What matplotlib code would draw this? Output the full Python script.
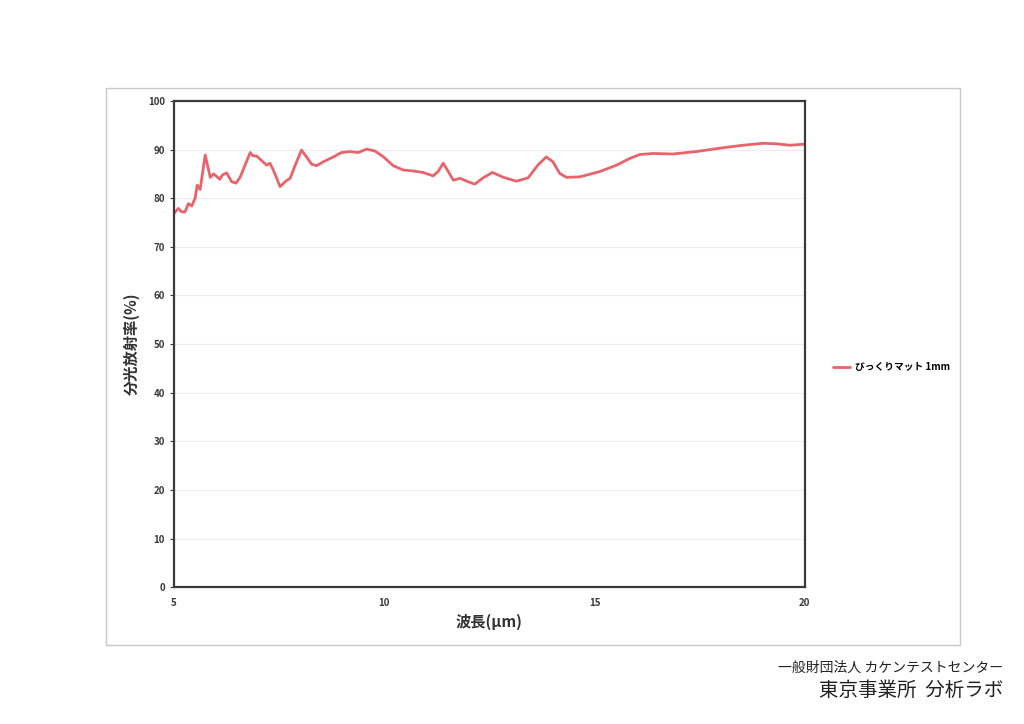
import matplotlib
matplotlib.use("Agg")
from matplotlib import pyplot as plt
from matplotlib.patches import Rectangle

plt.rcParams['font.family'] = ['Noto Sans CJK JP', 'DejaVu Sans']

# wavelength (um) and spectral emissivity (%)
wavelength = [5.00, 5.10, 5.18, 5.26, 5.34, 5.42, 5.50, 5.55, 5.62, 5.74,
              5.86, 5.94, 6.09, 6.15, 6.25, 6.37, 6.47, 6.57, 6.81, 6.88,
              6.96, 7.20, 7.28, 7.36, 7.52, 7.67, 7.76, 7.88, 8.03, 8.15,
              8.27, 8.39, 8.55, 8.79, 8.98, 9.18, 9.38, 9.58, 9.78, 9.98,
              10.21, 10.45, 10.69, 10.92, 11.16, 11.28, 11.40, 11.52, 11.64, 11.80,
              11.99, 12.15, 12.35, 12.57, 12.83, 13.14, 13.42, 13.65, 13.85, 14.01,
              14.17, 14.33, 14.65, 15.13, 15.52, 15.84, 16.08, 16.39, 16.86, 17.42,
              17.98, 18.53, 19.01, 19.32, 19.64, 19.96, 20.00]
emissivity = [76.9, 77.9, 77.2, 77.2, 78.9, 78.4, 80.0, 82.7, 81.8, 88.9,
              84.3, 85.0, 83.9, 84.8, 85.2, 83.4, 83.1, 84.3, 89.4, 88.7,
              88.7, 86.8, 87.2, 85.8, 82.4, 83.6, 84.1, 86.8, 89.9, 88.5,
              87.0, 86.7, 87.5, 88.5, 89.4, 89.6, 89.4, 90.1, 89.7, 88.5,
              86.7, 85.8, 85.6, 85.3, 84.6, 85.5, 87.2, 85.5, 83.7, 84.1,
              83.4, 82.9, 84.2, 85.3, 84.3, 83.5, 84.2, 86.8, 88.5, 87.5,
              85.1, 84.3, 84.4, 85.5, 86.8, 88.2, 89.0, 89.2, 89.1, 89.6,
              90.3, 90.9, 91.3, 91.2, 90.9, 91.1, 91.1]

series_name = "びっくりマット 1mm"
x_ticks = [5, 10, 15, 20]
y_ticks = list(range(0, 101, 10))

fig = plt.figure(figsize=(10.24, 7.24), dpi=100)

# outer chart frame (Excel chart area)
fig.patches.append(Rectangle((0.1035, 0.109), 0.834, 0.769, transform=fig.transFigure,
                             fill=False, edgecolor='#c8c8c8', linewidth=1.0))

ax = fig.add_axes([0.170, 0.189, 0.616, 0.6715])
ax.plot(wavelength, emissivity, color='#e8636b', linewidth=2.0, label=series_name,
        solid_joinstyle='round', solid_capstyle='round')

ax.set_xlim(5, 20)
ax.set_ylim(0, 100)
ax.set_xticks(x_ticks)
ax.set_yticks(y_ticks)
ax.grid(axis='y', color='#ececec', linewidth=0.8)
ax.set_axisbelow(True)

for side in ax.spines.values():
    side.set_color('#3a3a3a')
    side.set_linewidth(1.6)

ax.tick_params(axis='both', labelsize=7, colors='#3a3a3a', length=3, width=0.8)
ax.tick_params(axis='x', length=0, pad=8)
for lbl in ax.get_xticklabels() + ax.get_yticklabels():
    lbl.set_fontweight('bold')

ax.set_xlabel("波長(μm)", fontsize=11, fontweight='bold', color='#333333', labelpad=4)
ax.set_ylabel("分光放射率(%)", fontsize=11, fontweight='bold', color='#333333', labelpad=6)

ax.legend(loc='center left', bbox_to_anchor=(1.03, 0.453), frameon=False,
          handlelength=1.8, handletextpad=0.5,
          prop={'weight': 'bold', 'size': 7})

fig.text(0.9795, 0.078, "一般財団法人 カケンテストセンター", ha='right', va='center',
         fontsize=10, color='#222222')
fig.text(0.9795, 0.046, "東京事業所  分析ラボ", ha='right', va='center',
         fontsize=14, color='#222222')

fig.savefig("out.png", dpi=100)
